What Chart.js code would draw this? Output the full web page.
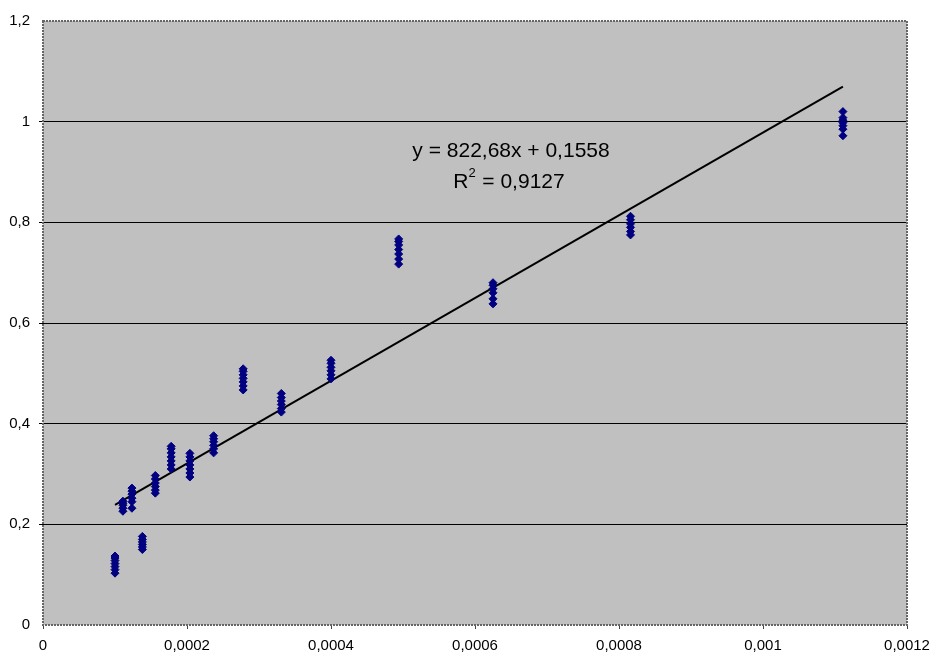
<!DOCTYPE html>
<html>
<head>
<meta charset="utf-8">
<script src="https://cdn.jsdelivr.net/npm/chart.js@4"></script>
<style>
  html, body { margin: 0; padding: 0; background: #fff; }
  canvas { display: block; }
</style>
</head>
<body>
<canvas id="fitChart" width="932" height="657"></canvas>
<script>
// Measured points: one x value per cluster, several y readings each
const xValues = [0.0001, 0.000111, 0.0001235, 0.000138, 0.000156, 0.000178, 0.000204,
                 0.000237, 0.000278, 0.000331, 0.0004, 0.000494, 0.000625, 0.000816, 0.001111];
const yGroups = [
    [0.103, 0.11, 0.116, 0.122, 0.128, 0.133, 0.137],
    [0.226, 0.232, 0.238, 0.242, 0.246],
    [0.232, 0.245, 0.252, 0.26, 0.266, 0.272],
    [0.15, 0.155, 0.16, 0.165, 0.17, 0.176],
    [0.262, 0.268, 0.275, 0.282, 0.29, 0.297],
    [0.31, 0.318, 0.326, 0.334, 0.342, 0.35, 0.355],
    [0.294, 0.302, 0.31, 0.318, 0.326, 0.334, 0.341],
    [0.342, 0.35, 0.357, 0.364, 0.37, 0.376],
    [0.467, 0.475, 0.483, 0.49, 0.497, 0.504, 0.509],
    [0.423, 0.43, 0.438, 0.445, 0.452, 0.46],
    [0.489, 0.497, 0.505, 0.512, 0.52, 0.526],
    [0.717, 0.727, 0.737, 0.746, 0.755, 0.762, 0.767],
    [0.638, 0.648, 0.66, 0.668, 0.675, 0.68],
    [0.775, 0.782, 0.79, 0.797, 0.805, 0.812],
    [0.972, 0.985, 0.992, 0.998, 1.003, 1.008, 1.02]
];

// Linear trendline endpoints (y = 822,68x + 0,1558)
const trendX = [0.0001, 0.001111];
const trendY = [0.2385, 1.0698];

const equationText = 'y = 822,68x + 0,1558';
const r2Text = ' = 0,9127';

const points = [];
xValues.forEach((x, i) => {
    yGroups[i].forEach(y => points.push({ x: x, y: y }));
});
const trendPoints = trendX.map((x, i) => ({ x: x, y: trendY[i] }));

const FONT = '"Liberation Sans", Arial, sans-serif';

function commaNum(v, digits) {
    return Number(v.toFixed(digits)).toString().replace('.', ',');
}

// Gray plot area, dotted frame and trendline label
const plotDecor = {
    id: 'plotDecor',
    beforeDraw(chart) {
        const { ctx, chartArea: a } = chart;
        ctx.save();
        ctx.fillStyle = '#fff';
        ctx.fillRect(0, 0, chart.width, chart.height);
        ctx.fillStyle = '#c0c0c0';
        ctx.fillRect(a.left, a.top, a.right - a.left, a.bottom - a.top);
        ctx.restore();
    },
    afterDraw(chart) {
        const { ctx, chartArea: a } = chart;
        ctx.save();
        ctx.strokeStyle = '#666';
        ctx.lineWidth = 2;
        ctx.setLineDash([2, 1]);
        ctx.strokeRect(a.left, a.top, a.right - a.left, a.bottom - a.top);
        ctx.setLineDash([]);

        ctx.fillStyle = '#000';
        ctx.font = '21px ' + FONT;
        ctx.textAlign = 'center';
        ctx.textBaseline = 'middle';
        ctx.fillText(equationText, 511, 151);
        // R² with superscript
        const rW = ctx.measureText('R').width;
        const restW = ctx.measureText(r2Text).width;
        const supW = 8;
        const x0 = 509 - (rW + supW + restW) / 2;
        ctx.textAlign = 'left';
        ctx.fillText('R', x0, 182);
        ctx.font = '13px ' + FONT;
        ctx.fillText('2', x0 + rW, 173);
        ctx.font = '21px ' + FONT;
        ctx.fillText(r2Text, x0 + rW + supW, 182);
        ctx.restore();
    }
};

new Chart(document.getElementById('fitChart'), {
    type: 'scatter',
    data: {
        datasets: [
            {
                label: 'data',
                data: points,
                pointStyle: 'rectRot',
                pointRadius: 4,
                pointHoverRadius: 4,
                backgroundColor: '#000080',
                borderColor: '#000080',
                borderWidth: 1
            },
            {
                label: 'trend',
                type: 'line',
                data: trendPoints,
                borderColor: '#000',
                borderWidth: 2,
                pointRadius: 0,
                fill: false
            }
        ]
    },
    options: {
        responsive: false,
        animation: false,
        layout: { padding: { top: 21, right: 25, left: 0, bottom: 0 } },
        plugins: {
            legend: { display: false },
            tooltip: { enabled: false }
        },
        scales: {
            x: {
                type: 'linear',
                min: 0,
                max: 0.0012,
                afterFit: s => {
                    s.height = 32;
                    s.paddingLeft = 0;
                    s.paddingRight = 0;
                },
                ticks: {
                    stepSize: 0.0002,
                    padding: 8,
                    color: '#000',
                    font: { family: FONT, size: 15 },
                    callback: v => commaNum(v, 4)
                },
                grid: {
                    display: true,
                    drawOnChartArea: false,
                    drawTicks: true,
                    tickLength: 4,
                    color: '#444'
                },
                border: { display: false }
            },
            y: {
                min: 0,
                max: 1.2,
                afterFit: s => {
                    s.width = 43;
                    s.paddingTop = 0;
                    s.paddingBottom = 0;
                },
                ticks: {
                    stepSize: 0.2,
                    padding: 9,
                    color: '#000',
                    font: { family: FONT, size: 15 },
                    callback: v => commaNum(v, 1)
                },
                grid: {
                    drawTicks: true,
                    tickLength: 4,
                    lineWidth: 1,
                    color: c => (c.tick && (c.tick.value === 0 || Math.abs(c.tick.value - 1.2) < 1e-9)) ? 'rgba(0,0,0,0)' : '#000'
                },
                border: { display: false }
            }
        }
    },
    plugins: [plotDecor]
});
</script>
</body>
</html>
